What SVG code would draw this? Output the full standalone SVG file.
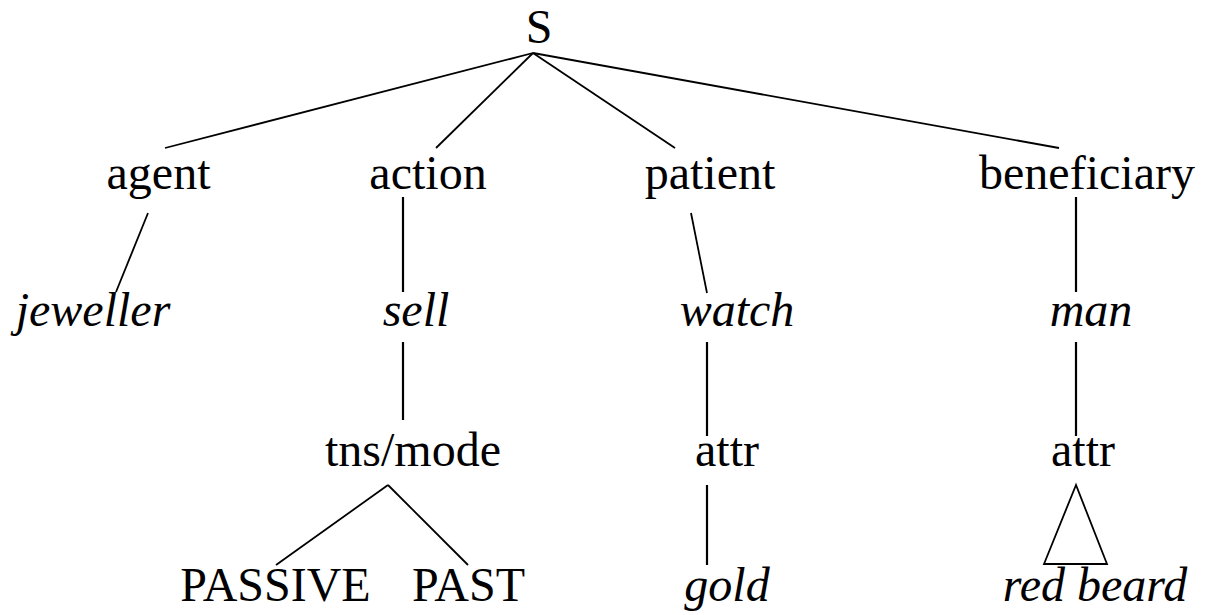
<svg xmlns="http://www.w3.org/2000/svg" width="1205" height="615" viewBox="0 0 1205 615">
  <style>
    text { font-family: "Liberation Serif", "Times New Roman", serif; font-size: 48px; fill: #000; text-anchor: middle; }
    .it { font-style: italic; }
    .edge { stroke: #000; stroke-width: 1.8; fill: none; }
    .stem { stroke: #000; stroke-width: 2.2; fill: none; }
  </style>
  <rect width="1205" height="615" fill="#fff"/>

  <g id="connectors">
    <!-- S to roles -->
    <line class="edge" x1="533" y1="53" x2="165" y2="148"/>
    <line class="edge" x1="533" y1="53" x2="436" y2="148"/>
    <line class="edge" x1="533" y1="53" x2="675" y2="148"/>
    <line class="edge" x1="533" y1="53" x2="1059" y2="148"/>
    <!-- roles to fillers -->
    <line class="edge" x1="148" y1="213" x2="116" y2="292"/>
    <line class="stem" x1="403" y1="197" x2="403" y2="292"/>
    <line class="edge" x1="691" y1="213" x2="707" y2="293"/>
    <line class="stem" x1="1076" y1="197" x2="1076" y2="292"/>
    <!-- fillers to modifiers -->
    <line class="stem" x1="403" y1="342" x2="403" y2="420"/>
    <line class="stem" x1="707" y1="342" x2="707" y2="436"/>
    <line class="stem" x1="1076" y1="342" x2="1076" y2="436"/>
    <!-- modifiers to leaves -->
    <line class="edge" x1="388" y1="485" x2="276" y2="565"/>
    <line class="edge" x1="388" y1="485" x2="468" y2="565"/>
    <line class="stem" x1="707" y1="485" x2="707" y2="565"/>
    <polygon class="edge" points="1076,485 1044,564 1107,564"/>
    <line class="stem" x1="1044" y1="564" x2="1107" y2="564"/>
  </g>

  <g id="node-S"><text x="539" y="43">S</text></g>
  <g id="node-agent"><text x="158.5" y="189">agent</text></g>
  <g id="node-action"><text x="428" y="189">action</text></g>
  <g id="node-patient"><text x="710" y="189">patient</text></g>
  <g id="node-beneficiary"><text x="1087" y="189">beneficiary</text></g>

  <g id="node-jeweller"><text class="it" x="93" y="326">jeweller</text></g>
  <g id="node-sell"><text class="it" x="416" y="326">sell</text></g>
  <g id="node-watch"><text class="it" x="737" y="326">watch</text></g>
  <g id="node-man"><text class="it" x="1091" y="326">man</text></g>

  <g id="node-tnsmode"><text x="413" y="466">tns/mode</text></g>
  <g id="node-attr-patient"><text x="727" y="466">attr</text></g>
  <g id="node-attr-beneficiary"><text x="1083" y="466">attr</text></g>

  <g id="node-passive"><text x="275.5" y="601">PASSIVE</text></g>
  <g id="node-past"><text x="468.5" y="601">PAST</text></g>
  <g id="node-gold"><text class="it" x="727" y="601">gold</text></g>
  <g id="node-redbeard"><text class="it" x="1095" y="601">red beard</text></g>
</svg>
